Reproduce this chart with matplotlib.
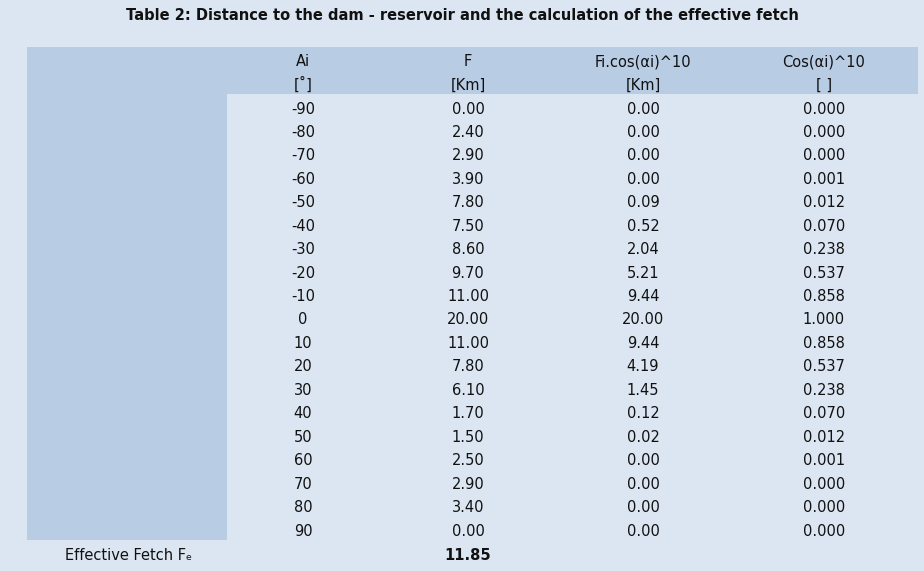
import matplotlib
matplotlib.use("Agg")
import matplotlib.pyplot as plt
from matplotlib.patches import Rectangle

title = "Table 2: Distance to the dam - reservoir and the calculation of the effective fetch"
headers = ["Ai", "F", "Fi.cos(αi)^10", "Cos(αi)^10"]
units = ["[˚]", "[Km]", "[Km]", "[ ]"]
ai = ["-90","-80","-70","-60","-50","-40","-30","-20","-10","0","10","20","30","40","50","60","70","80","90"]
f = ["0.00","2.40","2.90","3.90","7.80","7.50","8.60","9.70","11.00","20.00","11.00","7.80","6.10","1.70","1.50","2.50","2.90","3.40","0.00"]
fcos = ["0.00","0.00","0.00","0.00","0.09","0.52","2.04","5.21","9.44","20.00","9.44","4.19","1.45","0.12","0.02","0.00","0.00","0.00","0.00"]
cos10 = ["0.000","0.000","0.000","0.001","0.012","0.070","0.238","0.537","0.858","1.000","0.858","0.537","0.238","0.070","0.012","0.001","0.000","0.000","0.000"]
footer_label = "Effective Fetch Fₑ"
footer_value = "11.85"

W, H = 924, 571
fig = plt.figure(figsize=(W/100, H/100), dpi=100)
fig.patch.set_facecolor("#dce6f2")
ax = fig.add_axes([0, 0, 1, 1])
ax.set_xlim(0, W); ax.set_ylim(H, 0); ax.axis("off")
band = "#b8cce4"
ax.add_patch(Rectangle((27, 47), 891, 47, color=band, lw=0))
ax.add_patch(Rectangle((27, 47), 200, 493, color=band, lw=0))

fs = 10.5
ax.text(462, 16, title, ha="center", va="center", fontsize=10.5, fontweight="bold", color="#111")
xs = [303, 468, 643, 824]
for x, h, u in zip(xs, headers, units):
    ax.text(x, 62, h, ha="center", va="center", fontsize=fs, color="#111")
    ax.text(x, 85, u, ha="center", va="center", fontsize=fs, color="#111")
cols = [ai, f, fcos, cos10]
for i in range(len(ai)):
    y = 109 + i * (422 / 18)
    for x, c in zip(xs, cols):
        ax.text(x, y, c[i], ha="center", va="center", fontsize=fs, color="#111")
ax.text(65, 555, footer_label, ha="left", va="center", fontsize=fs, color="#111")
ax.text(468, 555, footer_value, ha="center", va="center", fontsize=fs, fontweight="bold", color="#111")
fig.savefig("out.png", dpi=100, facecolor=fig.get_facecolor())
